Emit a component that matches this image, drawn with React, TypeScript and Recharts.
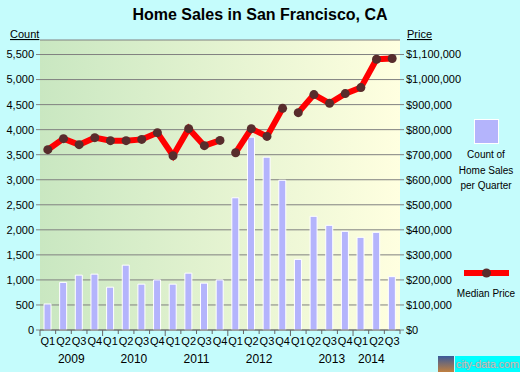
import React from "react";
import {
  ComposedChart,
  Bar,
  Line,
  XAxis,
  YAxis,
  CartesianGrid,
} from "recharts";

const quarters = [
  "Q1", "Q2", "Q3", "Q4",
  "Q1", "Q2", "Q3", "Q4",
  "Q1", "Q2", "Q3", "Q4",
  "Q1", "Q2", "Q3", "Q4",
  "Q1", "Q2", "Q3", "Q4",
  "Q1", "Q2", "Q3",
];
const years = ["2009", "2010", "2011", "2012", "2013", "2014"];

const salesCount = [
  520, 950, 1095, 1115,
  855, 1295, 915, 1000,
  915, 1135, 935, 1000,
  2640, 3850, 3450, 2990,
  1410, 2270, 2090, 1970,
  1850, 1950, 1065,
];

const medianPrice = [
  720000, 764000, 740000, 768000,
  756000, 756000, 761000, 788000,
  696000, 804000, 736000, 757000,
  708000, 804000, 773000, 885000,
  868000, 940000, 905000, 944000,
  968000, 1081000, 1084000,
];

// the price line is broken between these runs of quarters
const priceRuns = [
  [0, 11],
  [12, 15],
  [16, 22],
];

const countTicks = [0, 500, 1000, 1500, 2000, 2500, 3000, 3500, 4000, 4500, 5000, 5500];
const priceTicks = [0, 100000, 200000, 300000, 400000, 500000, 600000, 700000, 800000, 900000, 1000000, 1100000];

const data = quarters.map((q, i) => {
  const row: Record<string, unknown> = { key: i, q, count: salesCount[i] };
  priceRuns.forEach(([a, b], r) => {
    row["run" + r] = i >= a && i <= b ? medianPrice[i] : null;
  });
  return row;
});

const FONT = '"Liberation Sans", Arial, sans-serif';
const W = 520;
const H = 372;
const LEFT_W = 40;
const RIGHT_W = 120;
const PLOT_W = W - LEFT_W - RIGHT_W;
const BAR_FILL = "#b4b4fc";
const DOT_FILL = "#582c2c";

// small nudges so the year labels sit where the original puts them
const YEAR_SHIFT: Record<string, number> = { "2013": 10, "2014": -13 };

function QuarterTick(props: any) {
  const { x, y, payload, index } = props;
  const band = PLOT_W / quarters.length;
  const i = payload?.index ?? index;
  const q = quarters[i];
  const left = x - band / 2;
  const yearIdx = Math.floor(i / 4);
  const showYear = i % 4 === 1;
  const year = years[yearIdx];
  return (
    <g>
      <line x1={left} x2={left} y1={y} y2={y + (q === "Q1" ? 6 : 4)} stroke="#666" />
      {i === quarters.length - 1 && (
        <line x1={x + band / 2} x2={x + band / 2} y1={y} y2={y + 4} stroke="#666" />
      )}
      <text x={x} y={y + 15} textAnchor="middle" fontSize={11} fontFamily={FONT} fill="#000">
        {q}
      </text>
      {showYear && (
        <text
          x={x + band / 2 + (YEAR_SHIFT[year] ?? 0)}
          y={y + 33}
          textAnchor="middle"
          fontSize={12}
          fontFamily={FONT}
          fill="#000"
        >
          {year}
        </text>
      )}
    </g>
  );
}

const fmtCount = (v: number) => v.toLocaleString("en-US");
const fmtPrice = (v: number) => "$" + v.toLocaleString("en-US");

export default function App() {
  return (
    <div
      style={{
        position: "absolute",
        left: 0,
        top: 0,
        width: W,
        height: H,
        background: "#c5fcfc",
        overflow: "hidden",
      }}
    >
      <ComposedChart
        width={W}
        height={H}
        data={data}
        margin={{ top: 40, right: 0, left: 0, bottom: 0 }}
        barSize={7}
      >
        <defs>
          <linearGradient id="plotBg" x1="0" y1="0" x2="1" y2="0">
            <stop offset="0%" stopColor="#c9e7c1" />
            <stop offset="100%" stopColor="#ffffe0" />
          </linearGradient>
        </defs>
        <CartesianGrid
          yAxisId="left"
          vertical={false}
          stroke="#808080"
          fill="url(#plotBg)"
          fillOpacity={1}
        />
        <XAxis
          dataKey="key"
          height={42}
          interval={0}
          tickLine={false}
          tickSize={0}
          tickMargin={0}
          axisLine={{ stroke: "#666" }}
          tick={<QuarterTick />}
        />
        <YAxis
          yAxisId="left"
          width={LEFT_W}
          domain={[0, 5790]}
          ticks={countTicks}
          interval={0}
          axisLine={false}
          tickSize={4}
          tickMargin={2}
          tickLine={{ stroke: "#808080" }}
          tickFormatter={fmtCount}
          tick={{ fontSize: 11, fontFamily: FONT, fill: "#000" }}
        />
        <YAxis
          yAxisId="right"
          orientation="right"
          width={RIGHT_W}
          domain={[0, 1158000]}
          ticks={priceTicks}
          interval={0}
          axisLine={false}
          tickSize={4}
          tickMargin={2}
          tickLine={{ stroke: "#808080" }}
          tickFormatter={fmtPrice}
          tick={{ fontSize: 11, fontFamily: FONT, fill: "#000" }}
        />
        <Bar
          yAxisId="left"
          dataKey="count"
          fill={BAR_FILL}
          stroke="#fff"
          strokeWidth={1}
          isAnimationActive={false}
        />
        {priceRuns.map((_, r) => (
          <Line
            key={r}
            yAxisId="right"
            dataKey={"run" + r}
            stroke="#ff0000"
            strokeWidth={6}
            connectNulls={false}
            dot={{ r: 4.5, fill: DOT_FILL, stroke: "none" }}
            activeDot={false}
            isAnimationActive={false}
          />
        ))}
      </ComposedChart>

      <svg
        width={W}
        height={H}
        style={{ position: "absolute", left: 0, top: 0, pointerEvents: "none" }}
        fontFamily={FONT}
      >
        <text x={260} y={20} textAnchor="middle" fontSize={16} fontWeight="bold" fill="#000">
          Home Sales in San Francisco, CA
        </text>
        <text x={10} y={38} fontSize={11} textDecoration="underline" fill="#000">
          Count
        </text>
        <text x={407} y={38} fontSize={11} textDecoration="underline" fill="#000">
          Price
        </text>

        <rect x={474.5} y={119.5} width={24} height={24} fill={BAR_FILL} stroke="#fff" />
        <text textAnchor="middle" fontSize={10} fill="#000">
          <tspan x={486} y={158}>Count of</tspan>
          <tspan x={486} y={174}>Home Sales</tspan>
          <tspan x={486} y={189}>per Quarter</tspan>
        </text>

        <line x1={464} x2={509} y1={273} y2={273} stroke="#ff0000" strokeWidth={6} />
        <circle cx={486.5} cy={273} r={4.5} fill={DOT_FILL} />
        <text x={486} y={297} textAnchor="middle" fontSize={10} fill="#000">
          Median Price
        </text>
      </svg>

      <div
        style={{
          position: "absolute",
          left: 438,
          top: 356,
          width: 16,
          height: 16,
          background: "linear-gradient(#3a5a9a, #c08040)",
        }}
      />
      <div
        style={{
          position: "absolute",
          left: 455,
          top: 356,
          width: 65,
          height: 16,
          background: "#00ffff",
          color: "#c8d0d4",
          fontFamily: FONT,
          fontSize: 11,
          letterSpacing: -0.2,
          lineHeight: "16px",
          textShadow: "0 0 1px #666",
          whiteSpace: "nowrap",
          textAlign: "center",
        }}
      >
        city-data.com
      </div>
    </div>
  );
}
